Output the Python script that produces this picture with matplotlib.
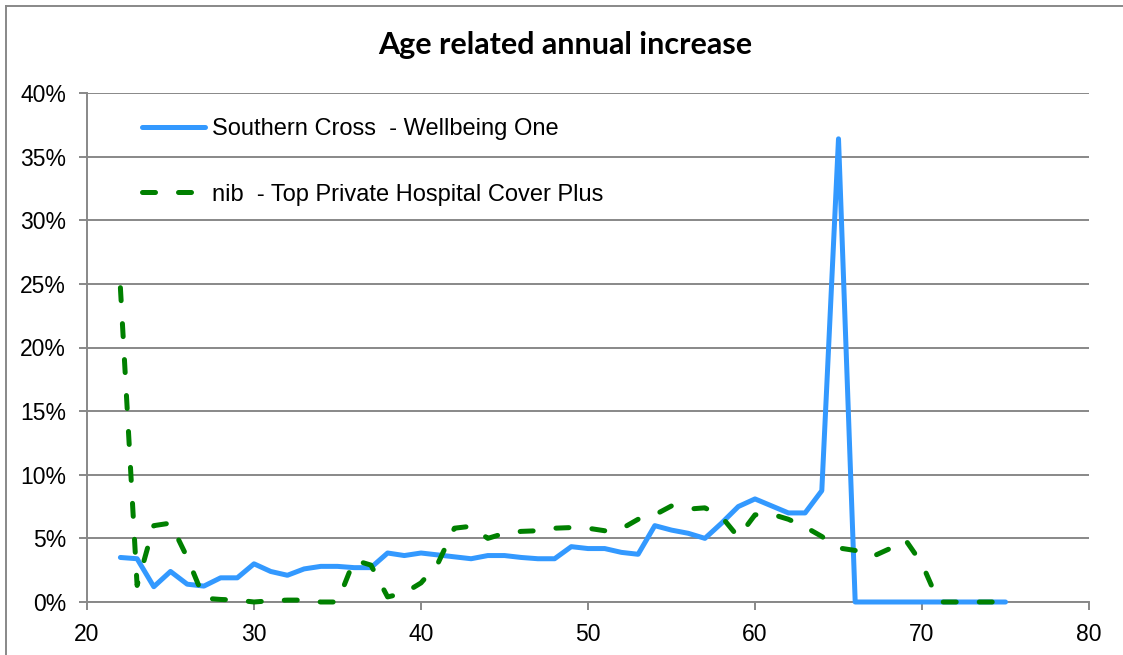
import matplotlib
matplotlib.use('Agg')
import matplotlib.pyplot as plt
from matplotlib.lines import Line2D
from matplotlib.ticker import FuncFormatter, MultipleLocator

# ages and annual increase (%)
ages = list(range(22, 76))
southern_cross = [3.5, 3.4, 1.2, 2.4, 1.4, 1.25, 1.9, 1.9, 3.0, 2.4,
                  2.1, 2.6, 2.8, 2.8, 2.7, 2.7, 3.85, 3.65, 3.85, 3.7,
                  3.55, 3.4, 3.65, 3.65, 3.5, 3.4, 3.4, 4.35, 4.2, 4.2,
                  3.9, 3.75, 6.0, 5.65, 5.4, 5.0, 6.2, 7.5, 8.1, 7.55,
                  7.0, 7.0, 8.75, 36.4, 0, 0, 0, 0, 0, 0,
                  0, 0, 0, 0]
nib = [24.7, 1.3, 6.0, 6.2, 3.5, 0.3, 0.2, 0.15, 0.0, 0.1,
       0.15, 0.15, 0.0, 0.0, 3.3, 2.9, 0.4, 0.7, 1.5, 3.0,
       5.8, 5.95, 5.0, 5.4, 5.55, 5.6, 5.8, 5.85, 5.8, 5.6,
       5.75, 6.5, 6.85, 7.55, 7.3, 7.4, 6.7, 5.1, 6.85, 6.9,
       6.5, 5.9, 5.15, 4.25, 4.05, 3.55, 4.15, 4.9, 3.0, 0,
       0, 0, 0, 0]
labels = ['Southern Cross  - Wellbeing One', 'nib  - Top Private Hospital Cover Plus']
title = 'Age related annual increase'

W, H = 1123, 655
GRID = '#888888'

fig = plt.figure(figsize=(W / 100, H / 100), dpi=100)
# axes placed in pixel terms: left 87, right 1089, top 93, bottom 602
ax = fig.add_axes([87 / W, (H - 602) / H, (1089 - 87) / W, (602 - 93) / H])

ax.plot(ages, southern_cross, color='#3399FF', lw=3.6, solid_capstyle='round',
        solid_joinstyle='round', clip_on=False, label=labels[0], zorder=3)
ax.plot(ages, nib, color='#008000', lw=3.6, linestyle=(0, (2.6, 4.6)),
        dash_capstyle='round', dash_joinstyle='round', clip_on=False,
        label=labels[1], zorder=4)

ax.set_xlim(20, 80)
ax.set_ylim(0, 40)
ax.xaxis.set_major_locator(MultipleLocator(10))
ax.yaxis.set_major_locator(MultipleLocator(5))
ax.yaxis.set_major_formatter(FuncFormatter(lambda v, p: f'{v:.0f}%'))

ax.grid(axis='y', color=GRID, lw=1.4)
ax.set_axisbelow(True)
for s in ['top', 'right']:
    ax.spines[s].set_visible(False)
for s in ['left', 'bottom']:
    ax.spines[s].set_color(GRID)
    ax.spines[s].set_linewidth(1.4)
ax.tick_params(axis='both', direction='out', length=6, width=1.4, color=GRID,
               labelsize=16.5, labelcolor='black')
ax.tick_params(axis='y', pad=9)
ax.tick_params(axis='x', pad=9)
for t in ax.get_xticklabels() + ax.get_yticklabels():
    t.set_fontfamily('Liberation Sans')

fig.text(565 / W, 1 - 45 / H, title, ha='center', va='center',
         fontsize=22, fontweight='bold', family='Lato')

ax.legend(loc='upper left', bbox_to_anchor=(142 / W, 1 - 118 / H),
          bbox_transform=fig.transFigure, frameon=False, borderpad=0,
          borderaxespad=0, handlelength=2.65, handletextpad=0.3,
          labelspacing=1.85, prop={'family': 'Liberation Sans', 'size': 17})

# outer chart border (top and left visible)
fig.add_artist(Line2D([6 / W, 6 / W], [0, 1 - 6 / H], transform=fig.transFigure,
                      color=GRID, lw=1.4))
fig.add_artist(Line2D([6 / W, 1], [1 - 6 / H, 1 - 6 / H], transform=fig.transFigure,
                      color=GRID, lw=1.4))

fig.savefig('out.png', dpi=100)
